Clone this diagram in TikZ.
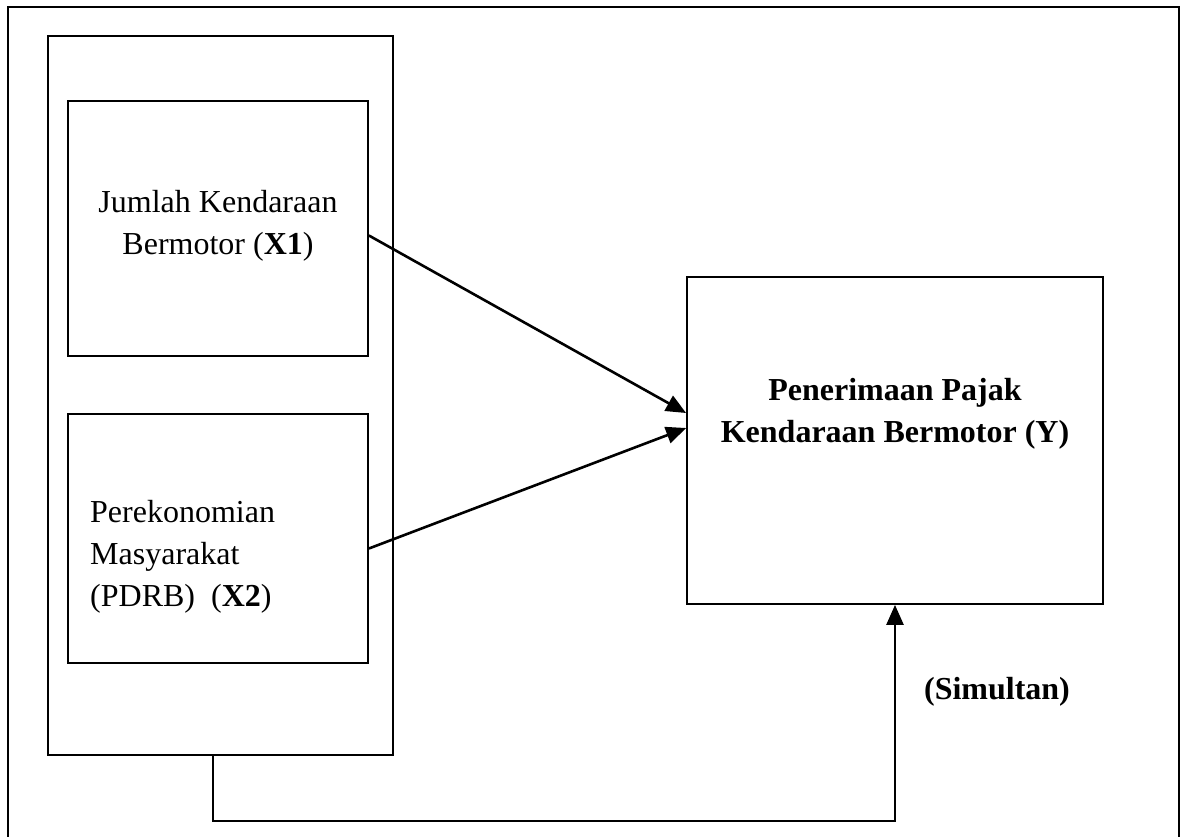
\documentclass[tikz,border=0pt]{standalone}
\usepackage{fontspec}
\setmainfont{Liberation Serif}
\usetikzlibrary{arrows.meta,calc}
\tikzset{
  box/.style={draw=black, line width=1.8pt, minimum width=#1, inner sep=0pt},
  txt/.style={inner sep=0pt, font=\fontsize{32}{42}\selectfont},
  arr/.style={line width=2.6pt, -{Triangle[length=20pt,width=17pt]}},
}
\begin{document}
\begin{tikzpicture}[x=1pt,y=-1pt]
\useasboundingbox (0,0) rectangle (1181,836);
\clip (0,0) rectangle (1181,836);
% outer frame
\draw[line width=1.8pt] (8,850) -- (8,7) -- (1179,7) -- (1179,850);
% boxes
\node[box=345pt, minimum height=719pt] (grp) at (220.5,395.5) {};
\node[box=300pt, minimum height=255pt] (x1) at (218,228.5) {};
\node[box=300pt, minimum height=249pt] (x2) at (218,538.5) {};
\node[box=416pt, minimum height=327pt] (Y) at (895,440.5) {};
% texts
\node[txt, align=center] (t1) at (218,226) {Jumlah Kendaraan\\Bermotor (\textbf{X1})};
\node[txt, align=left, anchor=north west] (t2) at (90,500) {Perekonomian\\Masyarakat\\(PDRB)\ \ (\textbf{X2})};
\node[txt, align=center, font=\fontsize{32}{42}\selectfont\bfseries] (ty) at (895,413.5) {Penerimaan Pajak\\Kendaraan Bermotor (Y)};
\node[txt, anchor=base, font=\fontsize{32}{42}\selectfont\bfseries] (sim) at (997,699) {(Simultan)};
% connectors
\draw[arr] ($(x1.east)+(0,7)$) -- ($(Y.west)+(0,-27.5)$);
\draw[arr] ($(x2.east)+(0,10)$) -- ($(Y.west)+(0,-12.5)$);
\coordinate (c1) at (213,821);
\draw[arr] (grp.south -| c1) -- (c1) -| (Y.south);
\end{tikzpicture}
\end{document}
